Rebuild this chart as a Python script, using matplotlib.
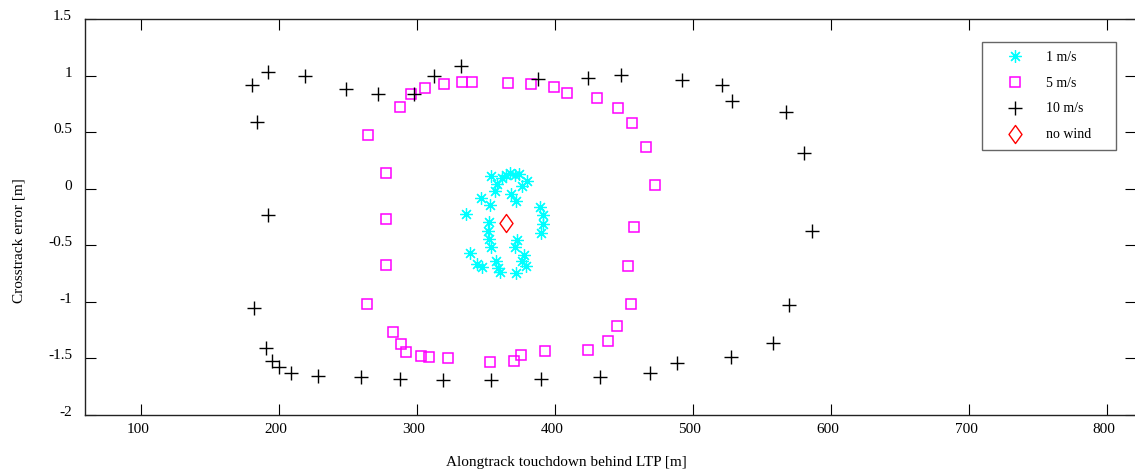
import matplotlib
matplotlib.use("Agg")
import matplotlib.pyplot as plt
import matplotlib.transforms as mtransforms
from matplotlib.path import Path

plt.rcParams['font.family'] = ['Liberation Serif', 'DejaVu Serif']

# touchdown points, one list pair per wind speed
x1 = [353.6, 361.6, 365.0, 367.9, 371.0, 374.4, 380.0, 358.3, 356.5, 376.4,
      368.4, 372.0, 346.9, 353.4, 335.8, 352.7, 351.4, 352.7, 353.6, 372.7,
      371.3, 338.4, 343.8, 347.4, 357.8, 358.7, 360.7, 372.2, 378.0, 376.4,
      379.5, 389.1, 391.6, 391.6, 390.1]
y1 = [0.115, 0.10, 0.121, 0.141, 0.121, 0.13, 0.071, 0.042, -0.018, 0.024,
      -0.047, -0.106, -0.082, -0.147, -0.224, -0.289, -0.371, -0.442, -0.518, -0.454,
      -0.518, -0.571, -0.668, -0.695, -0.637, -0.704, -0.736, -0.743, -0.586, -0.639,
      -0.683, -0.159, -0.233, -0.312, -0.389]

x5 = [265.0, 288.0, 295.7, 306.1, 319.9, 333.1, 340.4, 366.2, 382.6, 399.8,
      409.0, 430.9, 445.9, 456.3, 465.9, 472.7, 457.5, 453.4, 455.1, 445.4,
      438.7, 424.2, 392.8, 375.7, 370.6, 353.2, 323.0, 308.7, 302.9, 292.0,
      288.9, 282.9, 263.8, 277.5, 277.8, 278.0]
y5 = [0.475, 0.72, 0.835, 0.89, 0.93, 0.943, 0.943, 0.94, 0.926, 0.90,
      0.846, 0.80, 0.716, 0.584, 0.371, 0.033, -0.34, -0.68, -1.017, -1.21,
      -1.35, -1.426, -1.435, -1.47, -1.523, -1.53, -1.50, -1.491, -1.482, -1.444,
      -1.376, -1.267, -1.022, -0.675, -0.27, 0.136]

x10 = [180.7, 192.0, 218.8, 248.8, 272.2, 298.1, 312.8, 331.9, 184.6, 388.2,
       423.9, 448.3, 492.0, 521.5, 528.8, 567.9, 580.4, 586.7, 569.8, 558.3,
       527.8, 488.7, 469.3, 432.9, 389.9, 354.1, 319.1, 288.0, 259.9, 228.8,
       208.7, 200.5, 195.2, 190.9, 181.9, 192.3]
y10 = [0.92, 1.03, 1.00, 0.88, 0.84, 0.84, 1.00, 1.09, 0.59, 0.967,
       0.976, 1.008, 0.961, 0.92, 0.78, 0.675, 0.318, -0.374, -1.031, -1.364,
       -1.488, -1.538, -1.627, -1.662, -1.68, -1.691, -1.691, -1.683, -1.662, -1.659,
       -1.632, -1.574, -1.52, -1.408, -1.057, -0.235]

x0 = [364.8]
y0 = [-0.306]

labels = ['1 m/s', '5 m/s', '10 m/s', 'no wind']
xticks = [100, 200, 300, 400, 500, 600, 700, 800]
yticks = [-2, -1.5, -1, -0.5, 0, 0.5, 1, 1.5]

W, H = 1135, 473
fig = plt.figure(figsize=(W / 100, H / 100), dpi=100)
ax = fig.add_axes([85.3 / W, 58 / H, 1050.5 / W, 395.8 / H])

diamond = Path([(0, 1), (0.72, 0), (0, -1), (-0.72, 0), (0, 1)],
               [Path.MOVETO, Path.LINETO, Path.LINETO, Path.LINETO, Path.CLOSEPOLY])

ax.plot(x1, y1, ls='none', marker=(8, 2, 0), ms=9, mew=0.9, color='#00ffff', label=labels[0])
ax.plot(x5, y5, ls='none', marker='s', ms=7, mew=1.1, mfc='none', mec='#ff00ff', label=labels[1])
ax.plot(x10, y10, ls='none', marker='+', ms=10, mew=1.0, color='black', label=labels[2])
ax.plot(x0, y0, ls='none', marker=diamond, ms=13, mew=1.0, mfc='none', mec='#ff0000', label=labels[3])

ax.set_xlim(60, 821)
ax.set_ylim(-2, 1.5)
ax.set_xticks(xticks)
ax.set_yticks(yticks)
ax.set_yticklabels(['-2', '-1.5', '-1', '-0.5', '0', '0.5', '1', '1.5'])
ax.tick_params(direction='in', length=8, width=0.8, top=True, right=True, labelsize=11)
ax.tick_params(axis='y', pad=9.5)
ax.tick_params(axis='x', pad=5.5)
for s in ax.spines.values():
    s.set_linewidth(1.0)
    s.set_color('#222222')

# labels sit a little above their ticks
up = mtransforms.ScaledTranslation(0, 3 / 72, fig.dpi_scale_trans)
for lab in ax.get_yticklabels():
    lab.set_transform(lab.get_transform() + up)
left = mtransforms.ScaledTranslation(-2 / 72, 0, fig.dpi_scale_trans)
for lab in ax.get_xticklabels():
    lab.set_transform(lab.get_transform() + left)

fig.text(566 / W, 1 - 462 / H, 'Alongtrack touchdown behind LTP [m]', ha='center', va='center', fontsize=11)
fig.text(19 / W, 1 - 241 / H, 'Crosstrack error [m]', ha='center', va='center', rotation=90, fontsize=11)

lx0 = (981.7 - 85.3) / 1050.5
ly1 = (415 - 42.3) / 395.8
lw = 134 / 1050.5
lh = 106.7 / 395.8
leg = ax.legend(loc='upper left', bbox_to_anchor=(lx0, ly1 - lh, lw, lh), mode='expand',
                borderaxespad=0, fontsize=10, frameon=True, fancybox=False,
                handlelength=3.6, handletextpad=0.43, labelspacing=0.93, borderpad=0.6,
                numpoints=1)
leg.get_frame().set_edgecolor('#404040')
leg.get_frame().set_linewidth(1.0)

fig.savefig('out.png', dpi=100)
